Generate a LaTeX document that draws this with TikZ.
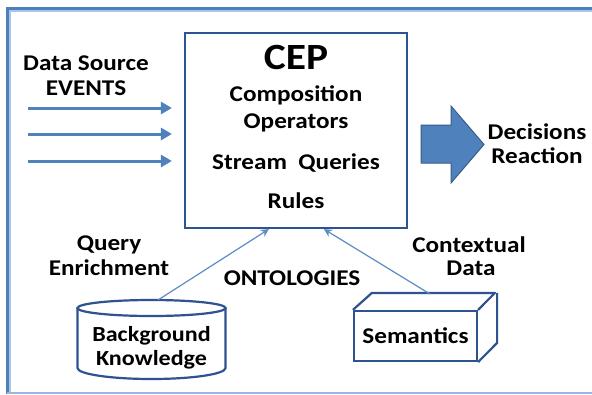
\documentclass[tikz,border=0pt]{standalone}
\usepackage{fontspec}
\setmainfont{Carlito}[FakeStretch=1.12]
\usetikzlibrary{arrows.meta,calc}
\definecolor{framedark}{HTML}{4F7FBA}
\definecolor{framelight}{HTML}{A8C6E8}
\definecolor{boxblue}{HTML}{2F5290}
\definecolor{arrowblue}{HTML}{4F81BD}
\definecolor{blockedge}{HTML}{385D8A}
\definecolor{thinblue}{HTML}{5B8BC9}
\tikzset{
  lbl/.style={font=\bfseries\fontsize{22.5}{24}\selectfont, align=center, inner sep=0pt},
  cyltext/.style={font=\bfseries\fontsize{21.5}{24}\selectfont, inner sep=0pt, anchor=base},
  boxline/.style={draw=boxblue, line width=2.2pt},
  inarrow/.style={draw=arrowblue, line width=3pt, -{Triangle[length=11pt,width=12pt]}},
  thinarrow/.style={draw=thinblue, line width=1.2pt, -{Stealth[length=8pt,width=8pt]}},
}
\begin{document}
\begin{tikzpicture}[x=1pt,y=-1pt]
\useasboundingbox (0,0) rectangle (592,394);
\fill[white] (0,0) rectangle (592,394);
% frame
\draw[framedark, line width=2.5pt] (7.5,394) -- (7.5,8.5) -- (592,8.5);
\draw[framelight, line width=1.5pt] (10.2,394) -- (10.2,11) -- (592,11);
\draw[framelight!80!arrowblue, line width=2pt] (7,392.5) -- (592,392.5);
% CEP box
\node[boxline, minimum width=222, minimum height=195, inner sep=0pt] (cep) at (296,130.5) {};
\node[lbl, font=\bfseries\fontsize{37}{40}\selectfont] (cept) at (296,57) {CEP};
\node[lbl] (comp) at (296,95) {Composition};
\node[lbl] (oper) at (296,123) {Operators};
\node[lbl] (sq) at (296,163) {Stream\ \ Queries};
\node[lbl] (rules) at (296,201) {Rules};
% left
\node[lbl] (ds) at (86,63) {Data Source};
\node[lbl] (ev) at (86,88) {EVENTS};
\coordinate (s1) at (28,108);
\coordinate (s2) at (28,134);
\coordinate (s3) at (28,161);
\draw[inarrow] (s1) -- ($(cep.west |- s1)+(-12,0)$);
\draw[inarrow] (s2) -- ($(cep.west |- s2)+(-12,0)$);
\draw[inarrow] (s3) -- ($(cep.west |- s3)+(-12,0)$);
% block arrow
\draw[fill=arrowblue, draw=blockedge, line width=1pt] (421,125) -- (451,125) -- (451,106) -- (484,144.5) -- (451,183) -- (451,163) -- (421,163) -- cycle;
\node[lbl] (dec) at (537,132) {Decisions};
\node[lbl] (rea) at (537,156) {Reaction};
% labels bottom
\node[lbl] (qu) at (109,245) {Query};
\node[lbl] (enr) at (109,268) {Enrichment};
\node[lbl] (ont) at (292,278) {ONTOLOGIES};
\node[lbl] (ctx) at (469,245) {Contextual};
\node[lbl] (dat) at (471,268) {Data};
% cylinder
\draw[boxline, fill=white] (77.5,308) -- (77.5,368) arc[start angle=180, end angle=0, x radius=74, y radius=11] -- (225.5,308);
\draw[boxline] (151.5,308) ellipse[x radius=74, y radius=8];
\node[cyltext] (bk1) at (151.5,341) {Background};
\node[cyltext] (bk2) at (151.5,365) {Knowledge};
\coordinate (bktop) at (158,300);
% cuboid
\node[boxline, minimum width=123, minimum height=50, inner sep=0pt, font=\bfseries\fontsize{22.5}{24}\selectfont] (sem) at (415.5,336) {Semantics};
\draw[boxline, line join=round] (sem.north west) -- ++(19,-17) -- ++(123,0) -- ($(sem.north east)$);
\draw[boxline, line join=round] ($(sem.north east)+(19,-17)$) -- ++(0,50) -- (sem.south east);
\coordinate (semtop) at (430,294);
% connectors
\draw[thinarrow] (bktop) -- ($(cep.south west)+(85,0)$);
\draw[thinarrow] (semtop) -- ($(cep.south west)+(140,0)$);
\end{tikzpicture}
\end{document}
